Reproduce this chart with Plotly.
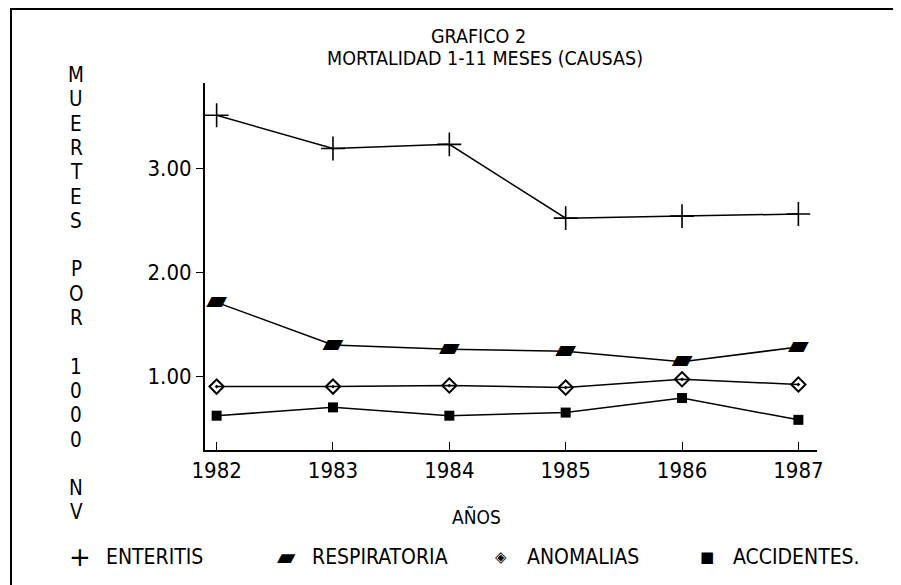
import plotly.graph_objects as go

years = [1982, 1983, 1984, 1985, 1986, 1987]
enteritis = [3.51, 3.19, 3.23, 2.52, 2.54, 2.56]
respiratoria = [1.71, 1.30, 1.26, 1.24, 1.14, 1.28]
anomalias = [0.90, 0.90, 0.91, 0.89, 0.97, 0.92]
accidentes = [0.62, 0.70, 0.62, 0.65, 0.79, 0.58]

y_ticks = [1, 2, 3]
y_label = "MUERTES POR 1000 NV"

FONT = "Liberation Sans Narrow, DejaVu Sans Condensed, sans-serif"
GLYPH_FONT = "DejaVu Sans, sans-serif"

# the page body adds an 8px margin, so the figure is laid out 8px smaller
OFF = 8
W, H = 901 - OFF, 585 - OFF
L, R, T, B = 197, 84, 75, 135
PW, PH = W - L - R, H - T - B


def px_x(px):
    # page pixel -> paper x
    return (px - OFF - L) / PW


def px_y(py):
    # page pixel -> paper y
    return (H - B - (py - OFF)) / PH


line_style = dict(color="black", width=1.5)

fig = go.Figure()

fig.add_trace(go.Scatter(
    x=years, y=enteritis, mode="lines+markers", line=line_style,
    marker=dict(symbol="cross-thin", size=17, line=dict(color="black", width=1.6)),
    name="ENTERITIS",
))
fig.add_trace(go.Scatter(
    x=years, y=respiratoria, mode="lines+text", line=line_style,
    text=["▰"] * len(years), textposition="middle center",
    textfont=dict(family=GLYPH_FONT, size=27, color="black"),
    name="RESPIRATORIA",
))
fig.add_trace(go.Scatter(
    x=years, y=anomalias, mode="lines+markers", line=line_style,
    marker=dict(symbol="diamond-open-dot", size=11, color="black",
                line=dict(color="black", width=2)),
    name="ANOMALIAS",
))
fig.add_trace(go.Scatter(
    x=years, y=accidentes, mode="lines+markers", line=line_style,
    marker=dict(symbol="square", size=10, color="black"),
    name="ACCIDENTES.",
))

annotations = [
    dict(text="GRAFICO 2", x=px_x(478), y=px_y(36), font=dict(size=19.5)),
    dict(text="MORTALIDAD 1-11 MESES (CAUSAS)", x=px_x(485), y=px_y(59), font=dict(size=19.5)),
    dict(text="AÑOS", x=px_x(476), y=px_y(517), font=dict(size=19)),
]

# stacked vertical axis title, one character per row
for i, ch in enumerate(y_label):
    if ch == " ":
        continue
    annotations.append(dict(text=ch, x=px_x(76), y=px_y(75 + 24.3 * i), font=dict(size=20.5)))

# hand-placed key along the bottom
legend_items = [
    ("+", 26, "ENTERITIS", 80),
    ("▰", 24, "RESPIRATORIA", 286),
    ("◈", 15, "ANOMALIAS", 501),
    ("■", 15, "ACCIDENTES.", 707),
]
for glyph, gsize, label, gx in legend_items:
    annotations.append(dict(text=glyph, x=px_x(gx), y=px_y(557),
                            font=dict(family=GLYPH_FONT, size=gsize)))
    annotations.append(dict(text=label, x=px_x(gx + 24), y=px_y(557), xanchor="left",
                            font=dict(size=21)))

for a in annotations:
    a.setdefault("xanchor", "center")
    a.update(xref="paper", yref="paper", yanchor="middle", showarrow=False)
    a["font"].setdefault("family", FONT)
    a["font"].setdefault("color", "black")

fig.update_layout(
    width=W, height=H,
    margin=dict(l=L, r=R, t=T, b=B, pad=0),
    paper_bgcolor="white", plot_bgcolor="white",
    showlegend=False,
    font=dict(family=FONT, color="black"),
    annotations=annotations,
    xaxis=dict(
        range=[1981.9, 1987.16], tickvals=years, ticks="inside", ticklen=8,
        tickcolor="black", showline=True, linecolor="black", linewidth=2,
        showgrid=False, zeroline=False, tickfont=dict(size=22),
    ),
    yaxis=dict(
        range=[0.29, 3.82], tickvals=y_ticks, tickformat=".2f", ticks="outside",
        ticklen=7, tickcolor="black", showline=True, linecolor="black", linewidth=2,
        showgrid=False, zeroline=False, tickfont=dict(size=22),
    ),
    shapes=[
        dict(type="path", xref="paper", yref="paper",
             path=f"M {px_x(11)} {px_y(600)} L {px_x(11)} {px_y(9)} L {px_x(920)} {px_y(9)}",
             line=dict(color="black", width=2)),
    ],
)

fig.write_html("out.html")
